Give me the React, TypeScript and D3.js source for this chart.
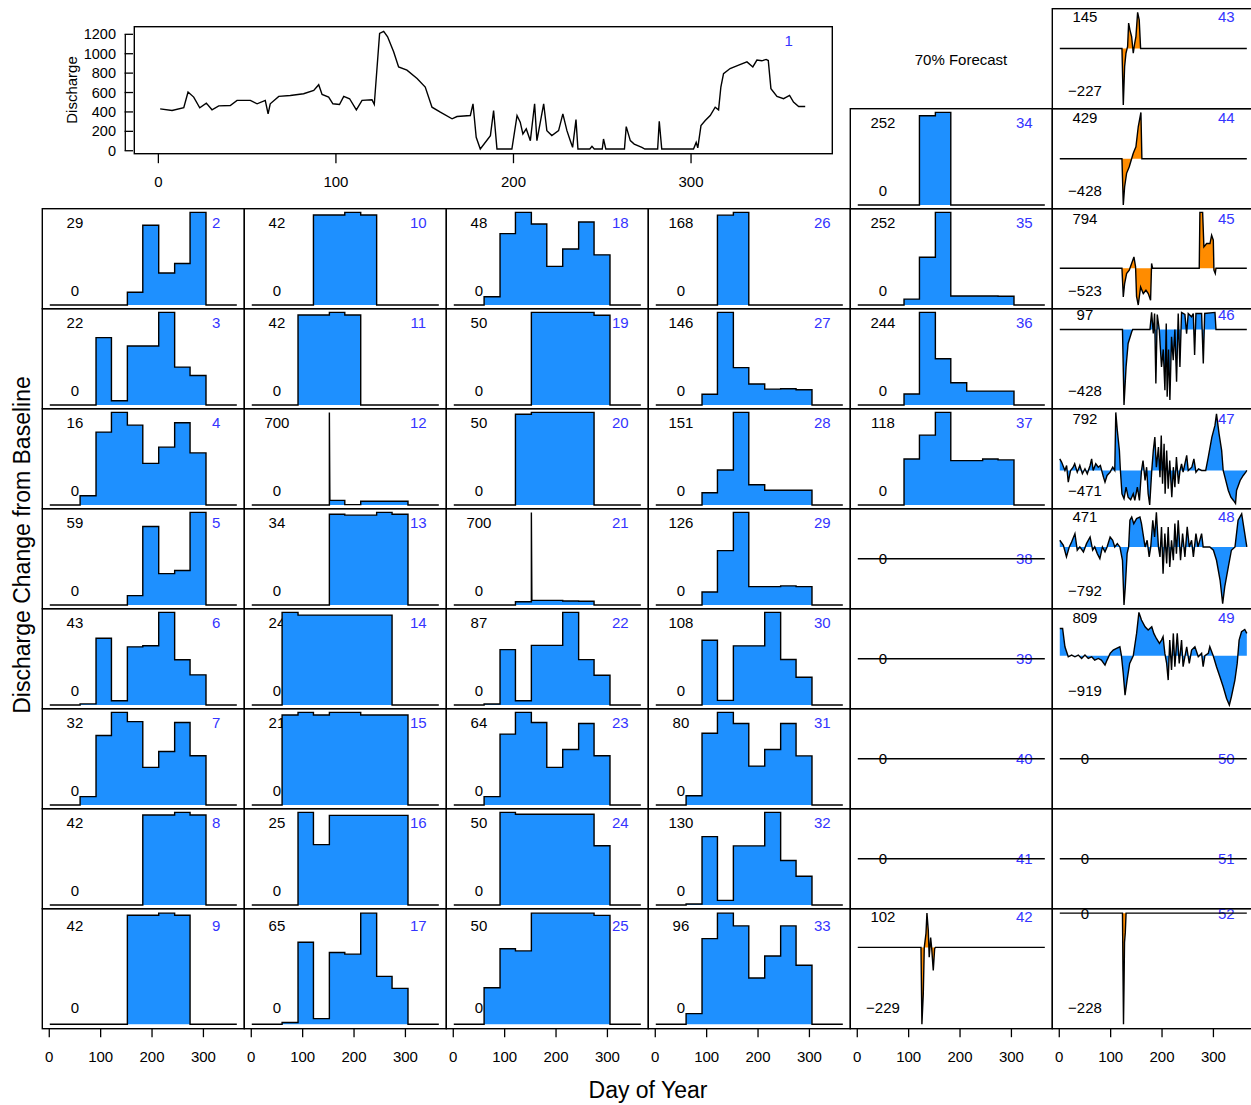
import React from "react";
import * as d3 from "d3";

// ---------- data ----------
const MONTH_STARTS = [1, 32, 60, 91, 121, 152, 182, 213, 244, 274, 305, 335];
const YEAR_END = 365;
const X_TICKS = [0, 100, 200, 300];
const Y_TICKS_TOP = [0, 200, 400, 600, 800, 1000, 1200];

type Pt = [number, number];

// baseline discharge (panel 1)
const discharge: Pt[] = [[1,432],[7.7,415],[14.3,443],[16.7,605],[19.9,553],[23.3,443],[27,491],[30.2,422],[34,463],[40.5,466],[44.3,519],[51.8,519],[55.6,484],[60.2,519],[61.8,380],[63,484],[67.8,560],[74.3,570],[81.8,588],[87.5,622],[90.3,681],[92.2,581],[95.9,553],[98.3,484],[102,477],[104.4,560],[107.7,536],[111.5,422],[114.7,519],[120.3,526],[121.6,477],[124.6,1210],[126.9,1230],[129.1,1175],[132.5,1020],[135.3,864],[140,830],[145.7,744],[150.3,657],[154.1,449],[158.8,397],[165.4,329],[168.2,353],[175.7,363],[177.2,484],[179,138],[181.3,18],[187,155],[188.8,415],[190.7,18],[199.1,18],[202,363],[203.8,294],[205.3,173],[207.2,225],[209.5,104],[211.9,484],[213.2,104],[217,484],[218.8,207],[221.6,156],[225.4,207],[227.8,380],[230.1,207],[232,104],[233.3,35],[235.2,321],[236.3,18],[243,18],[244.2,45],[245.5,18],[250,18],[250.7,121],[252,18],[262.5,18],[263.5,249],[265.8,104],[268,69],[272.3,35],[274,18],[281.2,18],[282.1,304],[283.5,18],[301.4,18],[302.9,86],[303.8,30],[305.6,259],[308,311],[310.8,363],[313.6,449],[315.5,422],[316.8,657],[318.3,795],[322,847],[326.8,882],[331.5,916],[334.8,864],[337.1,934],[339.9,927],[342.3,941],[343.5,930],[345,640],[348.4,560],[352.1,536],[355.5,570],[357.7,501],[360.6,456],[364.3,456]];

// monthly change panels (Jan..Dec)
const p2 = [0,0,0,0,0,4,25,10,13,29,0,0];
const p3 = [0,0,0,16,1,14,14,22,9,7,0,0];
const p4 = [0,0,1.6,12.6,16,13.8,7.2,10,14.2,9,0,0];
const p5 = [0,0,0,0,0,6,50,20,22,59,0,0];
const p6 = [0,0,0.5,31,2,27,27.5,43,21,14,0,0];
const p7 = [0,0,2.9,24,32,28.8,13,18.5,28.5,17,0,0];
const p8 = [0,0,0,0,0,0,40.8,40.8,42,40.8,0,0];
const p9 = [0,0,0,0,0,41.2,41.2,42,41.2,0,0,0];
const p10 = [0,0,0,0,40.8,40.8,42,40.8,0,0,0,0];
const p11 = [0,0,0,40.8,40.8,42,40.8,0,0,0,0,0];
const p12 = [0,0,0,0,0,35,3,28,28,28,0,0];
const p12Spike: Pt = [152, 700];
const p13 = [0,0,0,0,0,33.3,33,33,34,33.3,0,0];
const p14 = [0,0,24,23.3,23.3,23.3,23.3,23.3,23.3,0,0,0];
const p15 = [0,0,20.4,21,20.4,21,21,20.4,20.4,20.4,0,0];
const p16 = [0,0,0,25,16.3,24.2,24.2,24.2,24.2,24.2,0,0];
const p17 = [0,0,1,48,3.3,42,41,65,28,21,0,0];
const p18 = [0,0,4.3,37,48,42,20,29,43,26,0,0];
const p19 = [0,0,0,0,0,50,50,50,50,48.5,0,0];
const p20 = [0,0,0,0,49,50,50,50,50,0,0,0];
const p21 = [0,0,0,0,25,35,35,30,28,0,0,0];
const p21Spike: Pt = [152, 700];
const p22 = [0,0,1,52,4,56,56,87,42.6,28,0,0];
const p23 = [0,0,5.8,49,64,57,26,38.4,56.3,34,0,0];
const p24 = [0,0,0,50,49,49,49,49,49,32,0,0];
const p25 = [0,0,16.4,34,33,50,50,50,50,49,0,0];
const p26 = [0,0,0,0,163,168,0,0,0,0,0,0];
const p27 = [0,0,0,17,146,59,33,25,25.5,24,0,0];
const p28 = [0,0,0,20,57,151,33,24,24,24,0,0];
const p29 = [0,0,0,17.6,74,126,25,25,26,25,0,0];
const p30 = [0,0,0,75.6,5.4,69,69,108,53,32.4,0,0];
const p31 = [0,0,8,62,80,70.4,33.6,48,70.4,42.4,0,0];
const p32 = [0,0,1.3,96,6.5,83,83,130,62.4,40.3,0,0];
const p33 = [0,0,9.2,74,96,85,40,59,85,51,0,0];
const p34 = [0,0,0,0,243,252,0,0,0,0,0,0];
const p35 = [0,0,0,16,130,252,24.5,24.5,24.5,24,0,0];
const p36 = [0,0,0,29,244,122,58.6,36.6,36.6,36.6,0,0];
const p37 = [0,0,0,58.6,89,118,56.5,56.5,58.6,57.5,0,0];
const zeroSeries: Pt[] = [[1,0],[365,0]];

// daily change panels
const p42: Pt[] = [[1,0],[124,0],[125.8,-229],[128.5,-138],[130.4,0],[133.7,41],[135.6,102],[138.2,51],[140,-29],[142.8,29],[144.7,0],[147.9,-69],[150.6,-4],[152,0],[365,0]];
const p43: Pt[] = [[1,0],[122,0],[124.6,-227],[127.2,-72],[129.8,-19],[133,8],[135,102],[137.5,75],[140.8,48],[144,-19],[146.7,20],[149.2,48],[152.5,145],[155.6,115],[158.3,0],[365,0]];
const p44: Pt[] = [[1,0],[122,0],[124.6,-428],[127.2,-259],[131,-135],[136.2,-74],[140.8,0],[144,50],[149.2,111],[153.7,296],[158.9,429],[160.8,0],[365,0]];
const p45: Pt[] = [[1,0],[122,0],[124.6,-408],[127.2,-218],[131,-76],[136.2,-28],[140.8,67],[145.3,161],[148.5,19],[150.4,-400],[153.7,-523],[158.3,-266],[163.5,-360],[168.7,-313],[173.2,-360],[177.7,-455],[179.7,67],[181.6,0],[272.4,0],[273.7,794],[279,794],[281.5,303],[286.8,351],[293.3,351],[296.5,469],[299.8,398],[301,-28],[303.6,-76],[305,0],[365,0]];
const p46: Pt[] = [[1,0],[123,0],[126,-428],[130,-212],[134,-79],[141,-13],[143,0],[176.5,0],[179.7,97],[183,-23],[185.5,91],[188,-306],[190.7,85],[194.6,0],[199,-212],[202.4,-113],[205.6,-344],[208.2,34],[210,-381],[212.7,-113],[215.3,-400],[218.5,-41],[221.8,-174],[225,0],[228.3,-296],[231.5,91],[234.8,-212],[238,97],[244.5,85],[247.8,-23],[251,91],[257.5,72],[260.8,91],[263.4,-145],[266,91],[277,91],[280.3,-193],[283,91],[303,97],[305,0],[365,0]];
const p47: Pt[] = [[1,159],[4.5,114],[11,0],[14.3,68],[17.5,-159],[22,0],[27,45],[30,91],[35,-23],[40,68],[45,-45],[50,23],[54.5,-45],[60,68],[63,159],[66,0],[71,91],[76,45],[80,68],[86,-91],[89,-159],[93,-68],[99,-23],[104,45],[108,0],[110,792],[113,546],[117,273],[119,0],[122,-318],[126,-386],[130,-227],[134,-364],[139,-400],[144,-318],[147,-409],[152,-227],[156,-409],[160,0],[163,136],[167,-136],[170,45],[173,-318],[176,-471],[180,0],[183,273],[186,455],[189,45],[193,318],[196,-91],[198.5,477],[201,-182],[204,364],[206,-318],[209,273],[212,-250],[215,136],[219,-364],[222,45],[225,-227],[228,182],[232,-182],[235,0],[238,91],[241,-23],[248,205],[251,0],[258,45],[262,159],[266,-23],[271,23],[277,0],[285,0],[290,182],[297,455],[303,614],[306,773],[311,500],[316,273],[319,0],[324,-136],[329,-273],[334,-364],[339,-409],[343,-450],[345,-273],[352,-136],[358,-68],[363,-23],[365,0]];
const p48: Pt[] = [[1,91],[8,23],[14,-136],[19.5,0],[24,68],[30.5,182],[35,-45],[40,0],[47,-68],[53,45],[60,136],[65,-45],[69,0],[74,-91],[79,-159],[84,0],[89,-68],[93,0],[99,136],[104,91],[108,0],[113,45],[118,0],[123,-182],[126,-792],[128.5,-546],[132,-91],[135,0],[137.5,364],[141,409],[145,318],[150.5,386],[157,409],[160,318],[163,182],[167,0],[171,91],[175,-136],[178,0],[182,364],[185.5,136],[189,471],[193,0],[196,-136],[199,273],[202,-364],[205.5,182],[209,-227],[212,273],[215,-273],[218.5,91],[222,-182],[225,318],[228,-91],[231.5,364],[236,-182],[240,182],[244.5,-136],[249,273],[253,0],[257.5,91],[261,-136],[266,182],[270,0],[277,182],[280,0],[293,0],[300,-45],[306,-182],[313,-455],[318,-773],[322,-546],[329,-273],[335,-45],[342,0],[348,364],[355,450],[361,182],[365,0]];
const p49: Pt[] = [[1,510],[6.5,510],[11,168],[17.5,-19],[24,12],[30.5,-19],[37,12],[43.5,-50],[50,12],[56.4,-50],[63,-19],[69,-81],[76,-50],[82,-81],[89,-174],[93,-81],[99,44],[105,106],[111.5,137],[118,168],[121,0],[124.5,-330],[128,-734],[132,-454],[137,-143],[144,0],[150.5,417],[155,809],[160,666],[167,541],[173,479],[180,541],[184,417],[189,323],[195,230],[199,292],[202,355],[205.5,44],[209,-143],[212,-454],[215,292],[218.5,-267],[222,417],[225,-205],[229.6,417],[233.5,-143],[238,292],[241,-205],[248,168],[253,-143],[257.5,106],[264,168],[270.5,-19],[277,44],[280,-205],[283.4,0],[290,44],[293,168],[299.6,0],[306,-205],[312.6,-392],[319,-578],[325.6,-796],[331,-919],[335,-765],[341.8,-454],[346.3,-143],[350,292],[354.7,448],[361,491],[365,417]];
const p52: Pt[] = [[1,0],[123,0],[124,-120],[125,-228],[126,-150],[127,-60],[128.5,-40],[130,0],[365,0]];

// ---------- layout ----------
const W = 1251, H = 1105;
const COL_X = [42.3, 244.3, 446.3, 648.3, 850.3, 1052.3];
const COL_W = 202;
const rowTop = (r: number) => 8.7 + 100 * r;
const rowH = (r: number) => (r === 9 ? 120 : 100);
const BLUE = "#1E90FF";
const ORANGE = "#FF8C00";
const NUM_COLOR = "#3434ff";
const FONT = "'Liberation Sans', Arial, Helvetica, sans-serif";

type PanelDef = { id: number; col: number; row: number; monthly?: number[]; spike?: Pt; series?: Pt[]; color: string };

const B = BLUE, O = ORANGE;
const panels: PanelDef[] = [
  { id: 2, col: 0, row: 2, monthly: p2, color: B },
  { id: 3, col: 0, row: 3, monthly: p3, color: B },
  { id: 4, col: 0, row: 4, monthly: p4, color: B },
  { id: 5, col: 0, row: 5, monthly: p5, color: B },
  { id: 6, col: 0, row: 6, monthly: p6, color: B },
  { id: 7, col: 0, row: 7, monthly: p7, color: B },
  { id: 8, col: 0, row: 8, monthly: p8, color: B },
  { id: 9, col: 0, row: 9, monthly: p9, color: B },
  { id: 10, col: 1, row: 2, monthly: p10, color: B },
  { id: 11, col: 1, row: 3, monthly: p11, color: B },
  { id: 12, col: 1, row: 4, monthly: p12, spike: p12Spike, color: B },
  { id: 13, col: 1, row: 5, monthly: p13, color: B },
  { id: 14, col: 1, row: 6, monthly: p14, color: B },
  { id: 15, col: 1, row: 7, monthly: p15, color: B },
  { id: 16, col: 1, row: 8, monthly: p16, color: B },
  { id: 17, col: 1, row: 9, monthly: p17, color: B },
  { id: 18, col: 2, row: 2, monthly: p18, color: B },
  { id: 19, col: 2, row: 3, monthly: p19, color: B },
  { id: 20, col: 2, row: 4, monthly: p20, color: B },
  { id: 21, col: 2, row: 5, monthly: p21, spike: p21Spike, color: B },
  { id: 22, col: 2, row: 6, monthly: p22, color: B },
  { id: 23, col: 2, row: 7, monthly: p23, color: B },
  { id: 24, col: 2, row: 8, monthly: p24, color: B },
  { id: 25, col: 2, row: 9, monthly: p25, color: B },
  { id: 26, col: 3, row: 2, monthly: p26, color: B },
  { id: 27, col: 3, row: 3, monthly: p27, color: B },
  { id: 28, col: 3, row: 4, monthly: p28, color: B },
  { id: 29, col: 3, row: 5, monthly: p29, color: B },
  { id: 30, col: 3, row: 6, monthly: p30, color: B },
  { id: 31, col: 3, row: 7, monthly: p31, color: B },
  { id: 32, col: 3, row: 8, monthly: p32, color: B },
  { id: 33, col: 3, row: 9, monthly: p33, color: B },
  { id: 34, col: 4, row: 1, monthly: p34, color: B },
  { id: 35, col: 4, row: 2, monthly: p35, color: B },
  { id: 36, col: 4, row: 3, monthly: p36, color: B },
  { id: 37, col: 4, row: 4, monthly: p37, color: B },
  { id: 38, col: 4, row: 5, series: zeroSeries, color: B },
  { id: 39, col: 4, row: 6, series: zeroSeries, color: B },
  { id: 40, col: 4, row: 7, series: zeroSeries, color: B },
  { id: 41, col: 4, row: 8, series: zeroSeries, color: B },
  { id: 42, col: 4, row: 9, series: p42, color: O },
  { id: 43, col: 5, row: 0, series: p43, color: O },
  { id: 44, col: 5, row: 1, series: p44, color: O },
  { id: 45, col: 5, row: 2, series: p45, color: O },
  { id: 46, col: 5, row: 3, series: p46, color: B },
  { id: 47, col: 5, row: 4, series: p47, color: B },
  { id: 48, col: 5, row: 5, series: p48, color: B },
  { id: 49, col: 5, row: 6, series: p49, color: B },
  { id: 50, col: 5, row: 7, series: zeroSeries, color: B },
  { id: 51, col: 5, row: 8, series: zeroSeries, color: B },
  { id: 52, col: 5, row: 9, series: p52, color: O },
];

function stepVertices(monthly: number[], spike?: Pt): Pt[] {
  const pts: Pt[] = [];
  for (let i = 0; i < 12; i++) {
    const s = MONTH_STARTS[i];
    const e = i < 11 ? MONTH_STARTS[i + 1] : YEAR_END;
    if (spike && spike[0] === s) {
      pts.push([s, spike[1]]);
      pts.push([s + 1, monthly[i]]);
    } else pts.push([s, monthly[i]]);
    pts.push([e, monthly[i]]);
  }
  return pts;
}

const padDomain = (lo: number, hi: number): [number, number] => {
  if (hi === lo) return [lo - 1, hi + 1];
  const p = (hi - lo) * 0.04;
  return [lo - p, hi + p];
};

const fmt = (v: number) => (v < 0 ? "\u2212" + Math.abs(v) : String(v));

function Panel({ def }: { def: PanelDef }) {
  const left = COL_X[def.col];
  const top = rowTop(def.row);
  const h = rowH(def.row);
  const pts = def.series ? def.series : stepVertices(def.monthly!, def.spike);
  const hi = Math.max(0, d3.max(pts, (d) => d[1])!);
  const lo = Math.min(0, d3.min(pts, (d) => d[1])!);
  const x = d3.scaleLinear().domain(padDomain(1, YEAR_END)).range([left, left + COL_W]);
  const y = d3.scaleLinear().domain(padDomain(lo, hi)).range([top + h, top]);
  const area = d3.area<Pt>().x((d) => x(d[0])).y0(y(0)).y1((d) => y(d[1]));
  const line = d3.line<Pt>().x((d) => x(d[0])).y((d) => y(d[1]));
  const topY = y(0.89 * hi);
  const botY = y(lo) - 0.154 * (y(lo) - y(hi));
  return (
    <g>
      <text x={x(50)} y={topY} textAnchor="middle" dominantBaseline="central" fontSize={15}>{fmt(Math.round(hi))}</text>
      {hi !== lo && (
        <text x={x(50)} y={botY} textAnchor="middle" dominantBaseline="central" fontSize={15}>{fmt(Math.round(lo))}</text>
      )}
      <text x={x(325)} y={topY} textAnchor="middle" dominantBaseline="central" fontSize={15} fill={NUM_COLOR}>{def.id}</text>
      <path d={area(pts)!} fill={def.color} stroke="none" />
      <path d={line(pts)!} fill="none" stroke="#000" strokeWidth={1.4} strokeLinejoin="miter" />
      <rect x={left} y={top} width={COL_W} height={h} fill="none" stroke="#000" strokeWidth={1.4} />
    </g>
  );
}

function TopPanel() {
  const L = 134.3, R = 832.3, T = 26.7, Bt = 153.7;
  const x = d3.scaleLinear().domain(padDomain(1, YEAR_END)).range([L, R]);
  const ext = d3.extent(discharge, (d) => d[1]) as [number, number];
  const y = d3.scaleLinear().domain(padDomain(ext[0], ext[1])).range([Bt, T]);
  const line = d3.line<Pt>().x((d) => x(d[0])).y((d) => y(d[1]));
  return (
    <g>
      <path d={line(discharge)!} fill="none" stroke="#000" strokeWidth={1.4} />
      <rect x={L} y={T} width={R - L} height={Bt - T} fill="none" stroke="#000" strokeWidth={1.4} />
      <text x={x(355)} y={y(0.92 * ext[1])} textAnchor="middle" dominantBaseline="central" fontSize={15} fill={NUM_COLOR}>1</text>
      {X_TICKS.map((t) => (
        <g key={t}>
          <line x1={x(t)} x2={x(t)} y1={Bt} y2={Bt + 9.5} stroke="#000" strokeWidth={1.3} />
          <text x={x(t)} y={Bt + 28} textAnchor="middle" dominantBaseline="central" fontSize={15}>{t}</text>
        </g>
      ))}
      <line x1={125.3} x2={125.3} y1={y(0)} y2={y(1200)} stroke="#000" strokeWidth={1.3} />
      {Y_TICKS_TOP.map((t) => (
        <g key={t}>
          <line x1={124.6} x2={133} y1={y(t)} y2={y(t)} stroke="#000" strokeWidth={1.3} />
          <text x={116} y={y(t)} textAnchor="end" dominantBaseline="central" fontSize={14.5}>{t}</text>
        </g>
      ))}
      <text transform={`translate(71,90) rotate(-90)`} textAnchor="middle" dominantBaseline="central" fontSize={15}>Discharge</text>
    </g>
  );
}

function BottomAxes() {
  const yb = rowTop(9) + rowH(9);
  return (
    <g>
      {COL_X.map((left, i) => {
        const x = d3.scaleLinear().domain(padDomain(1, YEAR_END)).range([left, left + COL_W]);
        return (
          <g key={i}>
            {X_TICKS.map((t) => (
              <g key={t}>
                <line x1={x(t)} x2={x(t)} y1={yb} y2={yb + 8.5} stroke="#000" strokeWidth={1.3} />
                <text x={x(t)} y={yb + 27.5} textAnchor="middle" dominantBaseline="central" fontSize={15}>{t}</text>
              </g>
            ))}
          </g>
        );
      })}
    </g>
  );
}

export default function App() {
  return (
    <svg width={W} height={H} style={{ position: "absolute", left: 0, top: 0, display: "block", background: "#fff" }} fontFamily={FONT}>
      <rect x={0} y={0} width={W} height={H} fill="#fff" />
      <TopPanel />
      {panels.map((p) => (
        <Panel key={p.id} def={p} />
      ))}
      <BottomAxes />
      <text x={961} y={59} textAnchor="middle" dominantBaseline="central" fontSize={15}>70% Forecast</text>
      <text x={648} y={1090} textAnchor="middle" dominantBaseline="central" fontSize={23}>Day of Year</text>
      <text transform={`translate(22,545) rotate(-90)`} textAnchor="middle" dominantBaseline="central" fontSize={23}>Discharge Change from Baseline</text>
    </svg>
  );
}
